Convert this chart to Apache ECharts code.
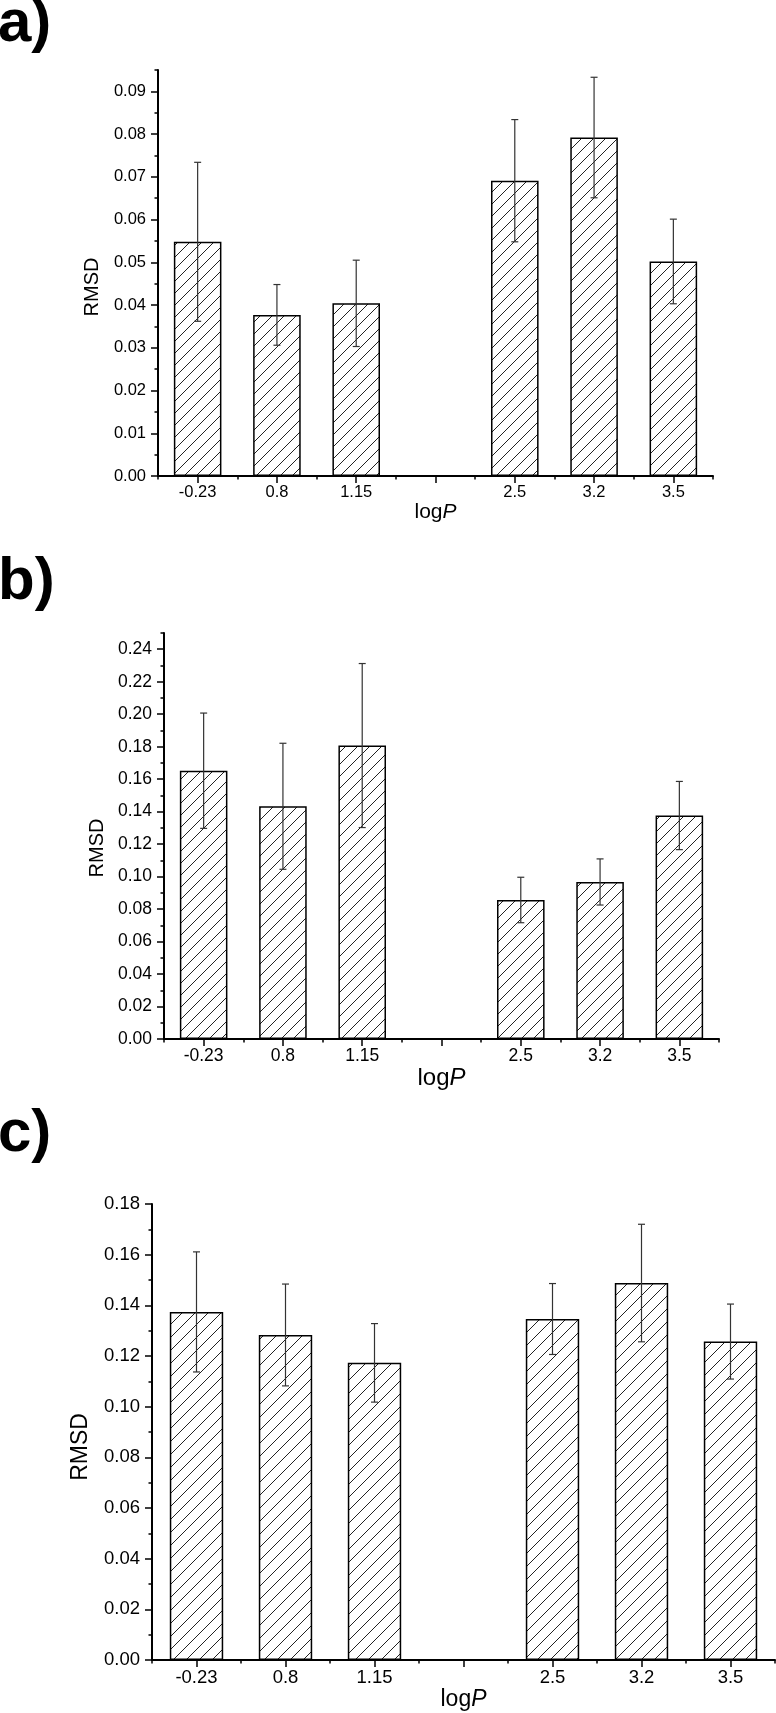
<!DOCTYPE html>
<html>
<head>
<meta charset="utf-8">
<script src="https://cdn.jsdelivr.net/npm/echarts@6/dist/echarts.min.js"></script>
<style>
html,body{margin:0;padding:0;background:#fff;}
#main{width:776px;height:1713px;}
</style>
</head>
<body>
<div id="main"></div>
<script>
// ---------- data ----------
const categories = ['-0.23', '0.8', '1.15', '', '2.5', '3.2', '3.5'];

const aValues = [0.0548, 0.0377, 0.0404, null, 0.0691, 0.0792, 0.0502];
const aErrors = [0.0186, 0.0071, 0.0101, null, 0.0143, 0.0141, 0.0099];

const bValues = [0.1652, 0.1433, 0.1807, null, 0.0856, 0.0967, 0.1376];
const bErrors = [0.0355, 0.0388, 0.0505, null, 0.0140, 0.0142, 0.0210];

const cValues = [0.1374, 0.1283, 0.1173, null, 0.1346, 0.1488, 0.1257];
const cErrors = [0.0237, 0.0201, 0.0155, null, 0.0140, 0.0232, 0.0148];

const aMajorTicks = [0, 0.01, 0.02, 0.03, 0.04, 0.05, 0.06, 0.07, 0.08, 0.09];
const aMinorTicks = [0.005, 0.015, 0.025, 0.035, 0.045, 0.055, 0.065, 0.075, 0.085, 0.095];
const bMajorTicks = [0, 0.02, 0.04, 0.06, 0.08, 0.10, 0.12, 0.14, 0.16, 0.18, 0.20, 0.22, 0.24];
const bMinorTicks = [0.01, 0.03, 0.05, 0.07, 0.09, 0.11, 0.13, 0.15, 0.17, 0.19, 0.21, 0.23, 0.25];
const cMajorTicks = [0, 0.02, 0.04, 0.06, 0.08, 0.10, 0.12, 0.14, 0.16, 0.18];
const cMinorTicks = [0.01, 0.03, 0.05, 0.07, 0.09, 0.11, 0.13, 0.15, 0.17];

const panelLabels = ['a)', 'b)', 'c)'];
const xName = 'log';
const xNameItalic = 'P';
const yName = 'RMSD';

// ---------- hatch pattern ----------
function makeHatch(size) {
  const cv = document.createElement('canvas');
  cv.width = size; cv.height = size;
  const ctx = cv.getContext('2d');
  ctx.fillStyle = '#fff';
  ctx.fillRect(0, 0, size, size);
  ctx.strokeStyle = '#222';
  ctx.lineWidth = 1;
  ctx.beginPath();
  ctx.moveTo(-1, size + 1); ctx.lineTo(size + 1, -1);
  ctx.moveTo(-2, 2); ctx.lineTo(2, -2);
  ctx.moveTo(size - 2, size + 2); ctx.lineTo(size + 2, size - 2);
  ctx.stroke();
  return cv;
}
const hatchAB = makeHatch(12);
const hatchC = makeHatch(13);

const FONT = "'Liberation Sans', Arial, sans-serif";

const panels = [
  { vals: aValues, errs: aErrors, major: aMajorTicks, minor: aMinorTicks, max: 0.095,
    grid: { left: 158, top: 70, width: 555, height: 406 },
    tickFont: 16.5, xNameFont: 21, yNameFont: 20, xNameGap: 17, yNameGap: 56, yShift: 14, hatch: hatchAB, titleTop: -6 },
  { vals: bValues, errs: bErrors, major: bMajorTicks, minor: bMinorTicks, max: 0.25,
    grid: { left: 164, top: 633, width: 555, height: 406 },
    tickFont: 17.5, xNameFont: 24, yNameFont: 20, xNameGap: 19, yNameGap: 57, yShift: 12, hatch: hatchAB, titleTop: 552 },
  { vals: cValues, errs: cErrors, major: cMajorTicks, minor: cMinorTicks, max: 0.18,
    grid: { left: 152, top: 1204, width: 623, height: 456 },
    tickFont: 18.5, xNameFont: 23, yNameFont: 23, xNameGap: 27, yNameGap: 60, yShift: 15, hatch: hatchC, titleTop: 1104 }
];

const option = {
  backgroundColor: '#fff',
  animation: false,
  title: [], grid: [], xAxis: [], yAxis: [], series: []
};

panels.forEach((p, i) => {
  option.title.push({
    text: panelLabels[i], left: -2, top: p.titleTop, padding: 0,
    textStyle: { fontFamily: FONT, fontWeight: 'bold', fontSize: 60, color: '#000', lineHeight: 60 }
  });
  option.grid.push(Object.assign({ containLabel: false }, p.grid));

  // main x axis: line, centre ticks, labels, name
  option.xAxis.push({
    type: 'category', gridIndex: i, position: 'bottom', data: categories,
    axisLine: { show: true, lineStyle: { color: '#000', width: 2 } },
    axisTick: { show: true, alignWithLabel: true, interval: 0, length: 7, lineStyle: { color: '#000', width: 1.5 } },
    axisLabel: { show: true, interval: 0, margin: 8, fontSize: p.tickFont, fontFamily: FONT, color: '#000' },
    splitLine: { show: false },
    name: '{n|' + xName + '}{i|' + xNameItalic + '}',
    nameLocation: 'middle', nameGap: p.xNameGap,
    nameTextStyle: {
      rich: {
        n: { fontSize: p.xNameFont, fontFamily: FONT, color: '#000' },
        i: { fontSize: p.xNameFont, fontFamily: FONT, fontStyle: 'italic', color: '#000' }
      }
    }
  });
  // overlay x axis: boundary (minor) ticks
  option.xAxis.push({
    type: 'category', gridIndex: i, position: 'bottom', data: categories,
    axisLine: { show: false },
    axisTick: { show: true, alignWithLabel: false, interval: 0, length: 3.5, lineStyle: { color: '#000', width: 1.5 } },
    axisLabel: { show: false }, splitLine: { show: false }
  });

  option.yAxis.push({
    type: 'value', gridIndex: i, position: 'left', min: 0, max: p.max,
    axisLine: { show: true, lineStyle: { color: '#000', width: 2 } },
    axisTick: { show: true, length: 7, customValues: p.major, lineStyle: { color: '#000', width: 1.5 } },
    axisLabel: { show: true, customValues: p.major, margin: 12, fontSize: p.tickFont, fontFamily: FONT, color: '#000',
      formatter: v => v.toFixed(2) },
    splitLine: { show: false },
    name: yName, nameLocation: 'middle', nameGap: p.yNameGap, nameRotate: 90,
    nameTextStyle: { fontSize: p.yNameFont, fontFamily: FONT, color: '#000', padding: [0, 2 * p.yShift, 0, 0] }
  });
  option.yAxis.push({
    type: 'value', gridIndex: i, position: 'left', min: 0, max: p.max,
    axisLine: { show: false },
    axisTick: { show: true, length: 3.5, customValues: p.minor, lineStyle: { color: '#000', width: 1.5 } },
    axisLabel: { show: false }, splitLine: { show: false }
  });

  option.series.push({
    type: 'bar', xAxisIndex: 2 * i, yAxisIndex: 2 * i,
    data: p.vals.map(v => (v == null ? '-' : v)),
    barWidth: '60%',
    itemStyle: { color: { image: p.hatch, repeat: 'repeat' }, borderColor: '#000', borderWidth: 1.5 },
    z: 2
  });

  option.series.push({
    type: 'custom', xAxisIndex: 2 * i, yAxisIndex: 2 * i,
    data: p.vals.map((v, k) => (v == null ? [k, '-', '-'] : [k, v, p.errs[k]])),
    z: 5,
    renderItem: function (params, api) {
      const v = api.value(1), e = api.value(2);
      if (isNaN(v) || isNaN(e)) return null;
      const x = api.value(0);
      const hi = api.coord([x, v + e]);
      const lo = api.coord([x, v - e]);
      const cap = 3.5;
      const style = { stroke: '#333', lineWidth: 1.2 };
      return {
        type: 'group',
        children: [
          { type: 'line', shape: { x1: hi[0], y1: hi[1], x2: lo[0], y2: lo[1] }, style },
          { type: 'line', shape: { x1: hi[0] - cap, y1: hi[1], x2: hi[0] + cap, y2: hi[1] }, style },
          { type: 'line', shape: { x1: lo[0] - cap, y1: lo[1], x2: lo[0] + cap, y2: lo[1] }, style }
        ]
      };
    }
  });
});

const chart = echarts.init(document.getElementById('main'), null, { renderer: 'canvas', width: 776, height: 1713 });
chart.setOption(option);
</script>
</body>
</html>
